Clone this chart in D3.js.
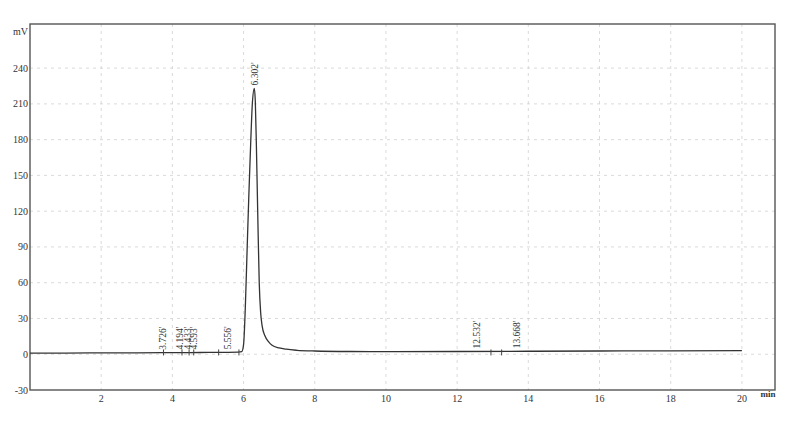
<!DOCTYPE html>
<html>
<head>
<meta charset="utf-8">
<script src="https://cdn.jsdelivr.net/npm/d3@7"></script>
<style>
  body { margin: 0; background: #fff; }
  svg { display: block; }
  text { font-family: "Liberation Serif", "DejaVu Serif", serif; fill: #333; }
</style>
</head>
<body>
<svg id="chart" width="793" height="421"></svg>
<script>
// ---- data ----
const xTicks = [2, 4, 6, 8, 10, 12, 14, 16, 18, 20];
const yTicks = [-30, 0, 30, 60, 90, 120, 150, 180, 210, 240];
const traceTime = [0, 1, 2, 3, 3.7, 4.2, 4.5, 5, 5.5, 5.85, 5.95, 6.0, 6.05, 6.1, 6.15, 6.2, 6.25, 6.302, 6.33, 6.36, 6.4, 6.44, 6.48, 6.52, 6.6, 6.7, 6.8, 7.0, 7.2, 7.5, 8, 9, 10, 12, 14, 16, 18, 20];
const traceSignal = [1.0, 1.0, 1.1, 1.2, 1.3, 1.4, 1.4, 1.5, 1.6, 1.8, 2.2, 8, 40, 88, 135, 177, 212, 223, 212, 175, 115, 60, 35, 24, 15.5, 10.5, 7.5, 5.3, 4.2, 3.3, 2.7, 2.3, 2.2, 2.3, 2.5, 2.7, 2.9, 3.0];
const peakTimes = [3.726, 4.194, 4.433, 4.593, 5.556, 6.302, 12.532, 13.668];
const peakLabels = ["3.726'", "4.194'", "4.433'", "4.593'", "5.556'", "6.302'", "12.532'", "13.668'"];
const peakHeights = [1.3, 1.4, 1.4, 1.4, 1.6, 223, 2.3, 2.4];
const markerTimes = [3.75, 4.27, 4.47, 4.6, 5.3, 5.87, 12.95, 13.25];

// ---- layout ----
const svg = d3.select("#chart");
const L = 30, R = 775, T = 24, B = 390;
const x = d3.scaleLinear().domain([0, 20.93]).range([L, R]);
const y = d3.scaleLinear().domain([-30, 277]).range([B, T]);

// grid
const grid = svg.append("g").attr("stroke", "#d0d0d0").attr("stroke-width", 0.8).attr("stroke-dasharray", "3,4");
grid.selectAll("line.v").data(xTicks).join("line")
  .attr("x1", d => x(d)).attr("x2", d => x(d)).attr("y1", T).attr("y2", B);
grid.selectAll("line.h").data(yTicks.filter(d => d > -30)).join("line")
  .attr("x1", L).attr("x2", R).attr("y1", d => y(d)).attr("y2", d => y(d));

// frame
svg.append("rect").attr("x", L).attr("y", T).attr("width", R - L).attr("height", B - T)
  .attr("fill", "none").attr("stroke", "#555").attr("stroke-width", 1.4);

// y tick labels
svg.append("g").selectAll("text").data(yTicks).join("text")
  .attr("x", L - 2).attr("y", d => y(d) + 3.5)
  .attr("text-anchor", "end").attr("font-size", 10).text(d => d);
svg.append("text").attr("x", L - 2).attr("y", 35).attr("text-anchor", "end")
  .attr("font-size", 10).text("mV");

// x tick labels
svg.append("g").selectAll("text").data(xTicks).join("text")
  .attr("x", d => x(d)).attr("y", 402)
  .attr("text-anchor", "middle").attr("font-size", 10).text(d => d);
svg.append("text").attr("x", 768).attr("y", 397).attr("text-anchor", "middle")
  .attr("font-size", 9).attr("font-weight", "bold").attr("fill", "#446").text("min");

// trace
const pts = traceTime.map((t, i) => [t, traceSignal[i]]);
svg.append("path").datum(pts)
  .attr("fill", "none").attr("stroke", "#333").attr("stroke-width", 1.3)
  .attr("d", d3.line().x(d => x(d[0])).y(d => y(d[1])).curve(d3.curveMonotoneX));

// peak boundary markers
svg.append("g").attr("stroke", "#444").attr("stroke-width", 1).selectAll("line").data(markerTimes).join("line")
  .attr("x1", d => x(d)).attr("x2", d => x(d))
  .attr("y1", y(1.5) - 3).attr("y2", y(1.5) + 3);

// peak labels
svg.append("g").selectAll("text").data(peakTimes).join("text")
  .attr("transform", (d, i) => `translate(${x(d) + 3.5},${y(peakHeights[i]) - 3}) rotate(-90)`)
  .attr("font-size", 9.5).attr("text-anchor", "start")
  .text((d, i) => peakLabels[i]);
</script>
</body>
</html>
